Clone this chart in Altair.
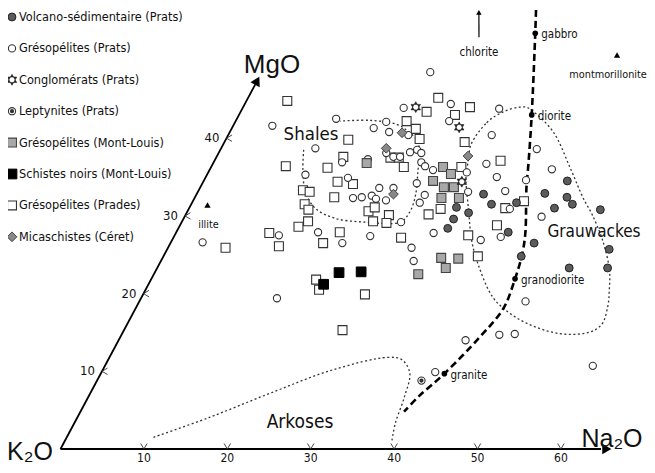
import altair as alt
import pandas as pd

# ---- diagram geometry: oblique axes (Na2O horizontal, MgO inclined) ----
SLOPE = 0.4976  # horizontal drift of the MgO axis, in Na2O units per MgO unit

# ---- data (Na2O, MgO) ----
volc_na = [34.4, 36.0, 38.9, 41.7, 43.8, 44.6, 45.7, 49.4, 53.0, 54.0, 49.4, 43.6, 42.9, 39.8, 33.8, 32.0, 32.4, 32.3, 43.6]
volc_mg = [32.8, 31.5, 31.7, 32.9, 31.0, 32.4, 31.5, 30.8, 25.7, 23.3, 23.3, 26.5, 24.8, 27.9, 30.4, 31.1, 29.6, 28.4, 34.5]

grprats_na = [20.2, 4.7, 19.3, 24.7, 25.6, 11.9, 17.0, 18.1, 19.1, 21.6, 11.3, 20.1, 21.2, 22.0, 22.9, 23.6, 24.3,
              15.4, 18.3, 24.9, 25.6, 26.8, 11.8, 17.1, 25.7, 21.5, 23.2, 19.0, 20.0, 21.1, 21.8, 23.1, 27.4, 27.3,
              26.3, 12.5, 17.0, 23.5, 30.9, 20.6, 3.8, 16.3, 29.2, 30.3, 31.0, 32.4, 32.8, 31.6, 37.9, 30.8, 34.9,
              36.8, 38.5, 42.8, 39.2, 37.0, 38.6, 41.0, 46.3, 41.6, 45.3, 47.1, 58.5, 40.0]
grprats_mg = [48.5, 41.6, 43.9, 44.4, 42.2, 42.5, 41.3, 42.1, 40.8, 40.4, 38.7, 38.1, 37.6, 37.6, 38.2, 38.5, 38.1,
              36.9, 37.3, 36.9, 36.4, 35.9, 35.3, 34.9, 34.2, 33.6, 33.6, 32.3, 32.4, 32.6, 32.2, 32.0, 32.7, 31.7,
              29.2, 27.5, 27.9, 27.4, 27.8, 26.5, 26.6, 19.4, 25.9, 24.2, 35.6, 33.1, 36.7, 40.4, 38.6, 43.8, 35.0,
              33.2, 30.9, 29.9, 27.3, 26.9, 34.6, 36.0, 19.0, 14.0, 14.7, 14.8, 10.7, 9.9]

congl_na = [20.7, 27.2, 31.0]
congl_mg = [44.0, 41.4, 34.4]

lept_na = [38.9]
lept_mg = [8.8]

grml_na = [27.8, 29.2, 27.5, 29.2, 30.4, 31.7, 29.6, 18.4, 33.4, 35.5, 34.6, 31.7]
grml_mg = [36.3, 35.4, 34.5, 33.7, 33.7, 32.3, 32.3, 36.8, 24.6, 24.5, 23.3, 22.5]

schist_na = [21.0, 22.1, 24.7]
schist_mg = [21.2, 22.7, 22.8]

prades_na = [4.9, 22.3, 22.8, 27.2, 25.9, 20.5, 22.1, 23.2, 28.8, 14.7, 15.2, 8.9, 14.0, 23.1, 16.1, 18.1, 12.5,
             13.4, 16.7, 13.6, 14.4, 15.1, 14.3, 21.7, 22.2, 24.4, 24.6, 22.9, 29.1, 19.6, 27.3, 11.2, 13.2, 18.3,
             6.9, 19.8, 20.8, 26.6, 26.2, 30.0, 35.2, 37.7, 30.2, 37.9, 38.0, 39.7, 34.3, 20.9, 21.9]
prades_mg = [44.8, 43.4, 45.2, 44.0, 43.0, 42.2, 41.2, 39.9, 39.5, 39.8, 37.6, 36.4, 36.2, 36.3, 34.4, 34.1, 33.3,
             33.1, 32.4, 31.5, 30.8, 29.3, 28.6, 30.6, 31.1, 30.1, 29.1, 29.3, 30.2, 27.9, 27.2, 27.8, 26.1, 26.5,
             25.9, 21.8, 20.5, 19.9, 15.3, 36.3, 27.5, 24.8, 30.9, 31.0, 28.8, 31.9, 37.1, 37.5, 37.5]

mica_na = [20.7, 19.8, 23.6, 30.1]
mica_mg = [40.7, 38.7, 32.8, 37.7]

# magmatic trend (gabbro -> granite)
trend_na = [28.9, 30.3, 35.1, 37.8, 39.1, 41.9, 42.9, 43.6, 44.1, 43.1, 41.2, 39.6, 38.8]
trend_mg = [56.5, 53.5, 43.0, 36.8, 33.7, 27.8, 25.0, 21.9, 18.1, 14.4, 9.7, 6.8, 4.8]
rocks = ["gabbro", "diorite", "granodiorite", "granite"]
rocks_na = [30.3, 35.1, 43.6, 41.2]
rocks_mg = [53.5, 43.0, 21.9, 9.7]

# fields
shales_na = [10.0, 11.2, 12.9, 15.1, 18.1, 22.0, 26.2, 26.7, 26.3, 25.0, 23.9, 22.9, 21.3, 19.5, 16.0, 12.5]
shales_mg = [38.5, 35.9, 33.1, 31.0, 29.7, 29.2, 29.2, 30.5, 32.7, 35.9, 38.5, 39.8, 40.9, 41.8, 42.3, 42.2]
grauw_na = [29.7, 30.2, 31.5, 33.2, 34.8, 38.9, 43.0, 46.5, 48.8, 51.6, 54.2, 55.6, 56.5, 56.9, 55.5, 52.1,
            47.8, 44.1, 41.5, 38.3, 35.9, 33.6, 31.4, 30.4]
grauw_mg = [39.4, 42.0, 43.4, 44.0, 43.6, 40.7, 36.3, 32.4, 30.1, 26.9, 23.3, 20.5, 18.3, 16.0, 14.9, 14.9,
            16.2, 18.1, 20.1, 23.7, 26.9, 30.8, 34.6, 37.2]
arkose_na = [10.4, 15.7, 21.6, 27.6, 33.4, 35.2, 37.0, 37.9, 38.5, 39.3]
arkose_mg = [1.5, 4.0, 7.2, 10.2, 11.8, 11.5, 9.8, 6.7, 3.3, 0.8]

# clay minerals
minerals = ["illite", "montmorillonite"]
minerals_na = [2.0, 41.5]
minerals_mg = [31.4, 50.7]
minerals_dx = [1, -9]
chlorite_na = [23.8, 22.2]
chlorite_mg = [53.0, 56.2]

na_ticks = [10, 20, 30, 40, 50, 60]
mg_ticks = [10, 20, 30, 40]
na_axis_end = 64.8
mg_axis_end = 46.9

legend_labels = ["Volcano-sédimentaire (Prats)", "Grésopélites (Prats)", "Conglomérats (Prats)",
                 "Leptynites (Prats)", "Grésopélites (Mont-Louis)", "Schistes noirs (Mont-Louis)",
                 "Grésopélites (Prades)", "Micaschistes (Céret)"]

NARROW = "DejaVu Sans Condensed, Liberation Sans Narrow, sans-serif"
SANS = "Liberation Sans, Arial, sans-serif"
STAR = "M0,-1.15L1,0.58L-1,0.58Z M0,1.15L1,-0.58L-1,-0.58Z"
TICK_V = "M-1,-1.7L0,0L1,-1.7"
TICK_LT = "M1.7,-1L0,0L1.7,1"

W, H = 639, 457
xs = alt.Scale(domain=[-6.295, 70.32], nice=False, zero=False)
ys = alt.Scale(domain=[-2.06, 56.76], nice=False, zero=False)


def df(na, mg, **extra):
    d = pd.DataFrame({"na": na, "mg": mg, **extra})
    d["i"] = range(len(d))
    return d


def base(d):
    return alt.Chart(d).transform_calculate(X=f"datum.na + {SLOPE} * datum.mg")


def xy(**kw):
    return dict(x=alt.X("X:Q", scale=xs, axis=None), y=alt.Y("mg:Q", scale=ys, axis=None), **kw)


STYLES = {
    "volc": dict(shape="circle", size=62, fill="#5c5c5c", stroke="#222", strokeWidth=1, filled=True, opacity=1),
    "grprats": dict(shape="circle", size=52, fill="white", stroke="#333", strokeWidth=1.1, filled=True, opacity=1),
    "congl": dict(shape=STAR, size=90, fill="#222", stroke="#222", strokeWidth=0.6, filled=True, opacity=1),
    "lept": dict(shape="circle", size=52, fill="white", stroke="#333", strokeWidth=1.1, filled=True, opacity=1),
    "grml": dict(shape="square", size=80, fill="#a8a8a8", stroke="#444", strokeWidth=1.1, filled=True, opacity=1),
    "schist": dict(shape="square", size=95, fill="#000", stroke="#000", strokeWidth=1, filled=True, opacity=1),
    "prades": dict(shape="square", size=80, fill="white", stroke="#333", strokeWidth=1.1, filled=True, opacity=1),
    "mica": dict(shape="diamond", size=95, fill="#888", stroke="#444", strokeWidth=1, filled=True, opacity=1),
}
DOT = dict(shape="circle", size=5, fill="#333", stroke="#333", filled=True, opacity=1)

layers = []

# axes
axis_na = df([0, na_axis_end], [0, 0])
axis_mg = df([0, 0], [0, mg_axis_end])
for d in (axis_na, axis_mg):
    layers.append(base(d).mark_line(color="black", strokeWidth=1.8).encode(**xy(order=alt.Order("i:Q"))))
layers.append(base(df([65.5], [0])).mark_point(shape="triangle-right", size=110, fill="black",
                                               filled=True, opacity=1).encode(**xy()))
layers.append(base(df([0], [47.4])).mark_point(shape="triangle-up", size=110, angle=28, fill="black",
                                               filled=True, opacity=1).encode(**xy()))
# ticks
tna = df(na_ticks, [0] * len(na_ticks), lab=[str(v) for v in na_ticks])
tmg = df([0] * len(mg_ticks), mg_ticks, lab=[str(v) for v in mg_ticks])
layers.append(base(tna).mark_point(shape=TICK_V, size=42, stroke="#333", strokeWidth=0.9, filled=False,
                                   opacity=1).encode(**xy()))
layers.append(base(tmg).mark_point(shape=TICK_LT, size=42, stroke="#333", strokeWidth=0.9, filled=False,
                                   opacity=1).encode(**xy()))
layers.append(base(tna).mark_text(font=NARROW, fontSize=12, dy=9, baseline="middle", color="#111")
              .encode(**xy(text="lab:N")))
layers.append(base(tmg).mark_text(font=NARROW, fontSize=13, dx=-7, align="right", baseline="middle", color="#111")
              .encode(**xy(text="lab:N")))

# fields
layers.append(base(df(shales_na, shales_mg)).mark_line(interpolate="catmull-rom", color="#333", strokeWidth=1.3,
                                                       strokeDash=[2, 2.5]).encode(**xy(order=alt.Order("i:Q"))))
layers.append(base(df(grauw_na, grauw_mg)).mark_line(interpolate="cardinal-closed", color="#333", strokeWidth=1.3,
                                                     strokeDash=[2, 2.5]).encode(**xy(order=alt.Order("i:Q"))))
layers.append(base(df(arkose_na, arkose_mg)).mark_line(interpolate="catmull-rom", color="#333", strokeWidth=1.3,
                                                       strokeDash=[2, 2.5]).encode(**xy(order=alt.Order("i:Q"))))

# magmatic trend
layers.append(base(df(trend_na, trend_mg)).mark_line(interpolate="catmull-rom", color="black", strokeWidth=2.6,
                                                     strokeDash=[7, 4]).encode(**xy(order=alt.Order("i:Q"))))

# samples
groups = [("prades", prades_na, prades_mg), ("grprats", grprats_na, grprats_mg), ("lept", lept_na, lept_mg),
          ("grml", grml_na, grml_mg), ("volc", volc_na, volc_mg), ("mica", mica_na, mica_mg),
          ("congl", congl_na, congl_mg), ("schist", schist_na, schist_mg)]
for key, na, mg in groups:
    layers.append(base(df(na, mg)).mark_point(**STYLES[key]).encode(**xy()))
    if key == "lept":
        layers.append(base(df(na, mg)).mark_point(**DOT).encode(**xy()))

# reference rocks
rk = df(rocks_na, rocks_mg, lab=rocks)
layers.append(base(rk).mark_point(shape="circle", size=32, fill="black", filled=True, opacity=1).encode(**xy()))
layers.append(base(rk).mark_text(font=NARROW, fontSize=11.5, align="left", baseline="middle", dx=6, dy=2,
                                 color="#111").encode(**xy(text="lab:N")))

# clay minerals
for j, lab in enumerate(minerals):
    mn = df([minerals_na[j]], [minerals_mg[j]], lab=[lab])
    layers.append(base(mn).mark_point(shape="triangle-up", size=40, fill="black", filled=True, opacity=1)
                  .encode(**xy()))
    layers.append(base(mn).mark_text(font=NARROW, fontSize=10.8, baseline="middle", dy=20, dx=minerals_dx[j],
                                     color="#111").encode(**xy(text="lab:N")))
ch = df(chlorite_na, chlorite_mg)
layers.append(base(ch).mark_line(color="black", strokeWidth=1.2).encode(**xy(order=alt.Order("i:Q"))))
layers.append(base(df([chlorite_na[1]], [chlorite_mg[1]])).mark_point(shape="triangle-up", size=30, fill="black",
                                                                      filled=True, opacity=1).encode(**xy()))
layers.append(base(df([chlorite_na[0]], [chlorite_mg[0]], lab=["chlorite"])).mark_text(
    font=NARROW, fontSize=11.5, baseline="middle", dy=16, color="#111").encode(**xy(text="lab:N")))

# texts (titles and field names)
one = pd.DataFrame({"a": [0]})
texts = [("MgO", 264, 65, 26, SANS), ("Na₂O", 604, 439, 25, SANS),
         ("K₂O", 22, 452, 25, SANS), ("Shales", 303, 126, 18.5, NARROW),
         ("Grauwackes", 586, 224, 17, NARROW), ("Arkoses", 292, 414, 19, NARROW)]
for t, x, y, fs, f in texts:
    bl = "alphabetic" if t in ("MgO", "Na₂O", "K₂O") else "middle"
    layers.append(alt.Chart(one).mark_text(text=t, font=f, fontSize=fs, align="center", baseline=bl, color="#111")
                  .encode(x=alt.value(x), y=alt.value(y)))

# legend
leg_keys = ["volc", "grprats", "congl", "lept", "grml", "schist", "prades", "mica"]
for i, (lab, key) in enumerate(zip(legend_labels, leg_keys)):
    y = 9 + 31.4 * i
    layers.append(alt.Chart(one).mark_point(**STYLES[key]).encode(x=alt.value(4), y=alt.value(y)))
    if key == "lept":
        layers.append(alt.Chart(one).mark_point(**DOT).encode(x=alt.value(4), y=alt.value(y)))
    layers.append(alt.Chart(one).mark_text(text=lab, font=NARROW, fontSize=12.6, align="left", baseline="middle",
                                           color="#111").encode(x=alt.value(11), y=alt.value(y)))

chart = alt.layer(*layers).properties(width=W, height=H, padding=0, autosize="none",
                                      background="white").configure_view(stroke=None)
chart.save("out.html", embed_options={"renderer": "svg", "actions": False})
